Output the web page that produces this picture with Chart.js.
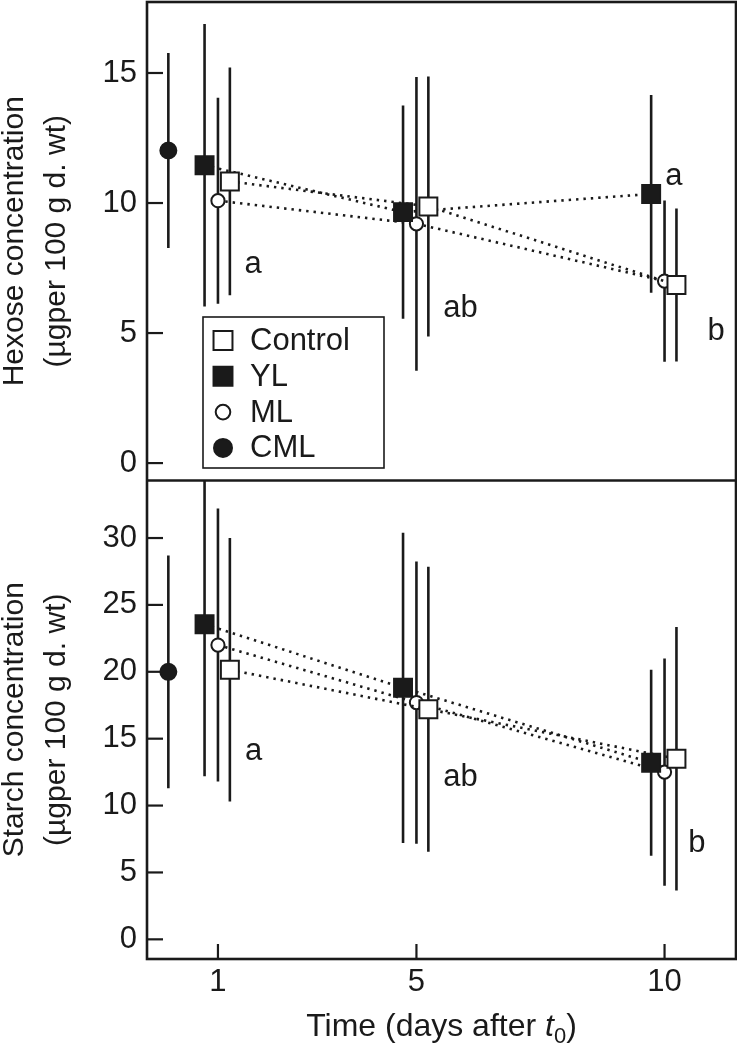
<!DOCTYPE html>
<html>
<head>
<meta charset="utf-8">
<script src="https://cdn.jsdelivr.net/npm/chart.js@4.4.1/dist/chart.umd.min.js"></script>
<style>
  html, body { margin: 0; padding: 0; background: #fff; }
</style>
</head>
<body>
<canvas id="chart" width="737" height="1052"></canvas>
<script>
// values
const days = [1, 5, 10];
const cmlDay = [0];
const dayTicks = [1, 5, 10];
const hexTicks = [0, 5, 10, 15];
const starchTicks = [0, 5, 10, 15, 20, 25, 30];
const series = ['Control', 'YL', 'ML', 'CML'];

const hexControl = [10.83, 9.87, 6.85];
const hexControlErr = [4.38, 5.0, 2.94];
const hexYL = [11.45, 9.65, 10.35];
const hexYLErr = [5.43, 4.1, 3.8];
const hexML = [10.09, 9.2, 7.0];
const hexMLErr = [3.96, 5.65, 3.1];
const hexCML = [12.02];
const hexCMLErr = [3.75];

const starchControl = [20.15, 17.2, 13.5];
const starchControlErr = [9.85, 10.65, 9.85];
const starchYL = [23.55, 18.8, 13.2];
const starchYLErr = [11.35, 11.6, 6.95];
const starchML = [22.0, 17.7, 12.5];
const starchMLErr = [10.2, 10.55, 8.5];
const starchCML = [20.0];
const starchCMLErr = [8.7];

// significance letters (day, value)
const hexLetters = ['a', 'ab', 'a', 'b'];
const hexLetterDay = [1.71, 5.89, 10.19, 11.04];
const hexLetterVal = [7.29, 5.62, 10.68, 4.72];
const starchLetters = ['a', 'ab', 'b'];
const starchLetterDay = [1.72, 5.89, 10.65];
const starchLetterVal = [13.39, 11.45, 6.54];

const FONT = '"Liberation Sans", Arial, Helvetica, sans-serif';
const INK = '#1a1a1a';

// side-by-side offset so the treatments don't overlap
const dodge = { Control: 0.24, YL: -0.27, ML: 0, CML: 0 };
const styles = {
  Control: { pointStyle: 'rect', radius: 12.7, bg: '#fff' },
  YL: { pointStyle: 'rect', radius: 12.7, bg: INK },
  ML: { pointStyle: 'circle', radius: 6.6, bg: '#fff' },
  CML: { pointStyle: 'circle', radius: 8, bg: INK }
};

function makeSet(name, xs, vals, errs, axis) {
  const st = styles[name];
  return {
    label: name,
    data: vals.map((v, i) => ({ x: xs[i] + dodge[name], y: v, err: errs[i] })),
    yAxisID: axis,
    showLine: name !== 'CML',
    borderColor: INK,
    borderWidth: 2.6,
    borderDash: [2.4, 5],
    backgroundColor: st.bg,
    pointStyle: st.pointStyle,
    pointRadius: st.radius,
    pointHoverRadius: st.radius,
    pointBorderWidth: 2,
    pointBorderColor: INK,
    pointBackgroundColor: st.bg
  };
}

const datasets = [
  makeSet('Control', days, hexControl, hexControlErr, 'yHex'),
  makeSet('YL', days, hexYL, hexYLErr, 'yHex'),
  makeSet('ML', days, hexML, hexMLErr, 'yHex'),
  makeSet('CML', cmlDay, hexCML, hexCMLErr, 'yHex'),
  makeSet('Control', days, starchControl, starchControlErr, 'yStarch'),
  makeSet('YL', days, starchYL, starchYLErr, 'yStarch'),
  makeSet('ML', days, starchML, starchMLErr, 'yStarch'),
  makeSet('CML', cmlDay, starchCML, starchCMLErr, 'yStarch')
];

// vertical error bars, clipped to their own panel
const errorBars = {
  id: 'errorBars',
  beforeDatasetsDraw(chart) {
    const { ctx, chartArea: a } = chart;
    chart.data.datasets.forEach(ds => {
      const ys = chart.scales[ds.yAxisID];
      ctx.save();
      ctx.beginPath();
      ctx.rect(a.left, ys.top, a.width, ys.bottom - ys.top);
      ctx.clip();
      ctx.strokeStyle = INK;
      ctx.lineWidth = 2.6;
      ds.data.forEach(p => {
        const x = chart.scales.x.getPixelForValue(p.x);
        ctx.beginPath();
        ctx.moveTo(x, ys.getPixelForValue(p.y - p.err));
        ctx.lineTo(x, ys.getPixelForValue(p.y + p.err));
        ctx.stroke();
      });
      ctx.restore();
    });
  }
};

// box around both panels, divider and inward ticks
const frame = {
  id: 'frame',
  afterDraw(chart) {
    const { ctx, chartArea: a, scales } = chart;
    ctx.save();
    ctx.strokeStyle = INK;
    ctx.lineWidth = 2.6;
    ctx.strokeRect(a.left, a.top, a.width, a.height);
    ctx.beginPath();
    ctx.moveTo(a.left, scales.yHex.bottom);
    ctx.lineTo(a.right, scales.yHex.bottom);
    ctx.stroke();
    ctx.lineWidth = 2.2;
    [scales.yHex, scales.yStarch].forEach(s => {
      s.ticks.forEach(t => {
        const y = s.getPixelForValue(t.value);
        ctx.beginPath();
        ctx.moveTo(a.left, y);
        ctx.lineTo(a.left + 16, y);
        ctx.stroke();
      });
    });
    scales.x.ticks.forEach(t => {
      const x = scales.x.getPixelForValue(t.value);
      ctx.beginPath();
      ctx.moveTo(x, a.bottom);
      ctx.lineTo(x, a.bottom - 15);
      ctx.stroke();
    });
    ctx.restore();
  }
};

const letters = {
  id: 'letters',
  afterDatasetsDraw(chart) {
    const { ctx, scales } = chart;
    ctx.save();
    ctx.fillStyle = INK;
    ctx.font = '31px ' + FONT;
    ctx.textAlign = 'center';
    ctx.textBaseline = 'alphabetic';
    hexLetters.forEach((t, i) => {
      ctx.fillText(t, scales.x.getPixelForValue(hexLetterDay[i]), scales.yHex.getPixelForValue(hexLetterVal[i]));
    });
    starchLetters.forEach((t, i) => {
      ctx.fillText(t, scales.x.getPixelForValue(starchLetterDay[i]), scales.yStarch.getPixelForValue(starchLetterVal[i]));
    });
    ctx.restore();
  }
};

const legendBox = {
  id: 'legendBox',
  afterDraw(chart) {
    const { ctx, chartArea: a } = chart;
    const bx = a.left + 56, by = 317, bw = 181, bh = 151;
    ctx.save();
    ctx.fillStyle = '#fff';
    ctx.fillRect(bx, by, bw, bh);
    ctx.strokeStyle = INK;
    ctx.lineWidth = 1.6;
    ctx.strokeRect(bx, by, bw, bh);
    const legendR = { Control: 13.4, YL: 13.4, ML: 7.3, CML: 9 };
    series.forEach((name, i) => {
      const st = styles[name];
      const base = by + 33 + i * 35.8;
      ctx.fillStyle = st.bg;
      ctx.strokeStyle = INK;
      ctx.lineWidth = 2;
      Chart.helpers.drawPoint(ctx, { pointStyle: st.pointStyle, radius: legendR[name], borderWidth: 2, rotation: 0 }, bx + 20, base - 9.5);
      ctx.fillStyle = INK;
      ctx.font = '31px ' + FONT;
      ctx.textBaseline = 'alphabetic';
      ctx.fillText(name, bx + 47, base);
    });
    ctx.restore();
  }
};

// x title with italic t and subscript 0
const xTitle = {
  id: 'xTitle',
  afterDraw(chart) {
    const { ctx, chartArea: a } = chart;
    const parts = [
      { t: 'Time (days after ', f: '32px ' + FONT, dy: 0 },
      { t: 't', f: 'italic 32px ' + FONT, dy: 0 },
      { t: '0', f: '22px ' + FONT, dy: 7 },
      { t: ')', f: '32px ' + FONT, dy: 0 }
    ];
    ctx.save();
    ctx.fillStyle = INK;
    ctx.textBaseline = 'alphabetic';
    let w = 0;
    parts.forEach(p => { ctx.font = p.f; p.w = ctx.measureText(p.t).width; w += p.w; });
    let x = (a.left + a.right) / 2 - w / 2;
    parts.forEach(p => {
      ctx.font = p.f;
      ctx.fillText(p.t, x, 1036 + p.dy);
      x += p.w;
    });
    ctx.restore();
  }
};

function noPad(s) {
  s.paddingTop = 0;
  s.paddingBottom = 0;
  s.paddingLeft = 0;
  s.paddingRight = 0;
}

function yAxis(min, max, tickVals, title) {
  return {
    type: 'linear',
    position: 'left',
    stack: 'panels',
    stackWeight: 1,
    min: min,
    max: max,
    grid: { display: false, drawTicks: false },
    border: { display: false },
    ticks: { color: INK, font: { family: FONT, size: 31 }, padding: 10 },
    afterBuildTicks: s => { s.ticks = tickVals.map(v => ({ value: v })); },
    afterFit: s => { s.width = 147; noPad(s); },
    title: {
      display: true,
      text: title,
      color: INK,
      font: { family: FONT, size: 30, lineHeight: 1.42 },
      padding: { top: -7, bottom: 0 }
    }
  };
}

new Chart(document.getElementById('chart'), {
  type: 'scatter',
  data: { datasets: datasets },
  options: {
    responsive: false,
    animation: false,
    devicePixelRatio: 1,
    layout: { autoPadding: false, padding: { top: 2, right: 1, left: 0, bottom: 0 } },
    plugins: { legend: { display: false }, tooltip: { enabled: false } },
    scales: {
      x: {
        type: 'linear',
        min: -0.43,
        max: 11.44,
        grid: { display: false, drawTicks: false },
        border: { display: false },
        ticks: { color: INK, font: { family: FONT, size: 31 }, padding: 5, maxRotation: 0 },
        afterBuildTicks: s => { s.ticks = dayTicks.map(v => ({ value: v })); },
        afterFit: s => { s.height = 93; noPad(s); }
      },
      // stacked axes are laid out bottom-up, so the lower panel comes first
      yStarch: yAxis(-1.47, 34.3, starchTicks, ['Starch concentration', '(µgper 100 g d. wt)']),
      yHex: yAxis(-0.67, 17.73, hexTicks, ['Hexose concentration', '(µgper 100 g d. wt)'])
    }
  },
  plugins: [errorBars, letters, frame, legendBox, xTitle]
});
</script>
</body>
</html>
